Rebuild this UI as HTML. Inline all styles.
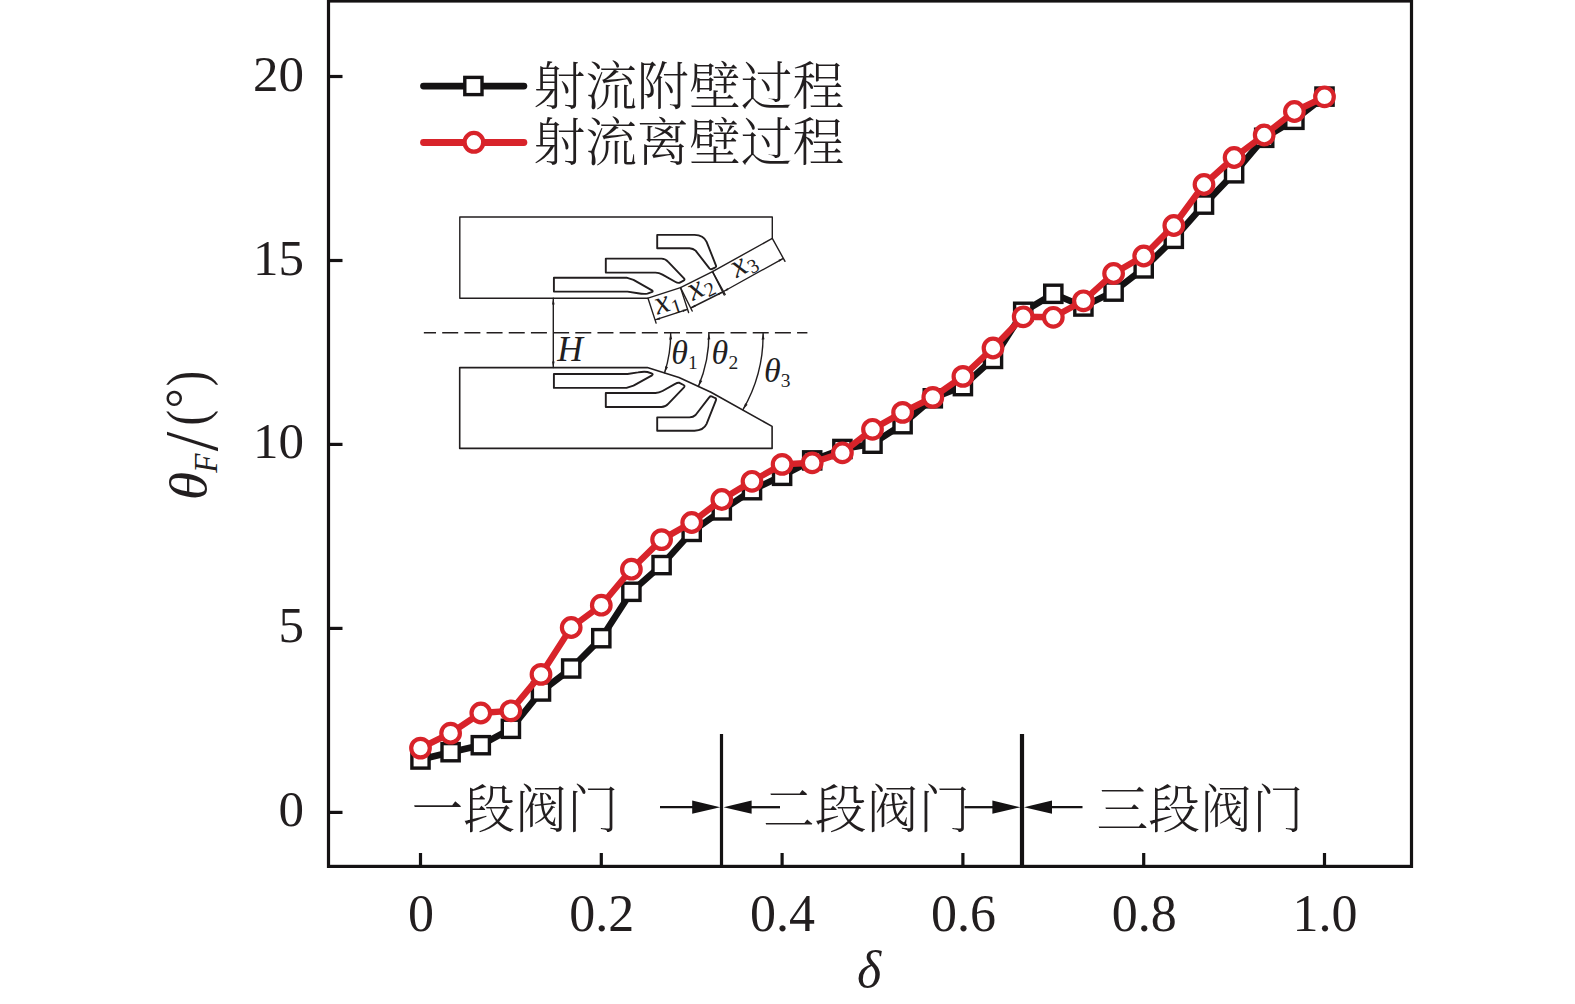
<!DOCTYPE html>
<html lang="zh-CN"><head><meta charset="utf-8"><title>射流附壁与离壁过程 θF–δ 曲线</title>
<style>
html,body{margin:0;padding:0;background:#fff;}
body{width:1575px;height:1004px;overflow:hidden;}
svg{display:block;}
text{fill:#221e1f;}
.num{font-family:"Liberation Serif",serif;font-size:52px;}
.it{font-family:"Liberation Serif",serif;font-style:italic;}
.cjk{font-family:"Liberation Serif","Noto Serif CJK SC",serif;font-size:51.8px;font-weight:300;}
.thin{fill:none;stroke:#221e1f;stroke-width:1.4;stroke-linejoin:round;stroke-linecap:round;}
.slot{fill:none;stroke:#221e1f;stroke-width:1.9;stroke-linejoin:round;}
</style></head><body>
<svg width="1575" height="1004" viewBox="0 0 1575 1004">
<rect x="0" y="0" width="1575" height="1004" fill="#fff"/>
<g id="frame" stroke="#141213" stroke-width="3.2" fill="none" stroke-linecap="butt">
<rect x="328.5" y="1" width="1083" height="865.4"/>
<line x1="329" y1="812.4" x2="342.5" y2="812.4"/>
<line x1="329" y1="628.4" x2="342.5" y2="628.4"/>
<line x1="329" y1="444.4" x2="342.5" y2="444.4"/>
<line x1="329" y1="260.5" x2="342.5" y2="260.5"/>
<line x1="329" y1="76.5" x2="342.5" y2="76.5"/>
<line x1="420.5" y1="866" x2="420.5" y2="853"/>
<line x1="601.3" y1="866" x2="601.3" y2="853"/>
<line x1="782.1" y1="866" x2="782.1" y2="853"/>
<line x1="962.9" y1="866" x2="962.9" y2="853"/>
<line x1="1143.7" y1="866" x2="1143.7" y2="853"/>
<line x1="1324.5" y1="866" x2="1324.5" y2="853"/>
</g>
<g id="yticks" class="num" text-anchor="end" style="font-size:51px">
<text x="304" y="826.4">0</text>
<text x="304" y="642.4">5</text>
<text x="304" y="458.4">10</text>
<text x="304" y="274.5">15</text>
<text x="304" y="90.5">20</text>
</g>
<g id="xticks" class="num" text-anchor="middle">
<text x="421" y="930.8">0</text>
<text x="601.8" y="930.8">0.2</text>
<text x="782.6" y="930.8">0.4</text>
<text x="963.4" y="930.8">0.6</text>
<text x="1144.2" y="930.8">0.8</text>
<text x="1325" y="930.8">1.0</text>
</g>
<text id="xlabel" class="it" x="869" y="987" font-size="52" text-anchor="middle">δ</text>
<g id="ylabel" transform="translate(205.5,500) rotate(-90)">
<text class="it" transform="translate(-0.3,0) scale(1.1,1)" font-size="52.5">θ</text>
<text class="it" transform="translate(27.3,11) scale(0.95,1)" font-size="33">F</text>
<text class="num" transform="translate(48.8,11) scale(0.92,1)" style="font-size:76.5px">/</text>
<text class="num" transform="translate(74.5,0.2) scale(0.8,1)" style="font-size:57.7px">(</text>
<text class="num" transform="translate(91.6,-5.4)" style="font-size:50.7px">°</text>
<text class="num" transform="translate(113.8,0.2) scale(0.8,1)" style="font-size:57.7px">)</text>
</g>
<g id="sections">
<line x1="721.5" y1="733.9" x2="721.5" y2="866" stroke="#141213" stroke-width="3.2"/>
<line x1="1022" y1="733.9" x2="1022" y2="866" stroke="#141213" stroke-width="4.2"/>
<line x1="660" y1="807.2" x2="694.2" y2="807.2" stroke="#141213" stroke-width="2.3"/>
<path d="M720.2 807.2 L692.2 800.6 L692.2 813.8 Z" fill="#141213"/>
<line x1="780" y1="807.2" x2="749.6" y2="807.2" stroke="#141213" stroke-width="2.3"/>
<path d="M723.6 807.2 L751.6 800.6 L751.6 813.8 Z" fill="#141213"/>
<line x1="964.5" y1="807.2" x2="994.4" y2="807.2" stroke="#141213" stroke-width="2.3"/>
<path d="M1020.4 807.2 L992.4 800.6 L992.4 813.8 Z" fill="#141213"/>
<line x1="1082.5" y1="807.2" x2="1050" y2="807.2" stroke="#141213" stroke-width="2.3"/>
<path d="M1024 807.2 L1052 800.6 L1052 813.8 Z" fill="#141213"/>
<text class="cjk" x="411.5" y="827.8">一段阀门</text>
<text class="cjk" x="763" y="827.8">二段阀门</text>
<text class="cjk" x="1096.5" y="827.8">三段阀门</text>
</g>
<g id="legend">
<line x1="423.5" y1="86.1" x2="523.9" y2="86.1" stroke="#141213" stroke-width="6.8" stroke-linecap="round"/>
<rect x="464.8" y="77.4" width="17.2" height="17.2" fill="#fff" stroke="#141213" stroke-width="3.4"/>
<line x1="423.5" y1="142.5" x2="523.9" y2="142.5" stroke="#d8232a" stroke-width="6.8" stroke-linecap="round"/>
<circle cx="473.9" cy="142.3" r="9.35" fill="#fff" stroke="#d8232a" stroke-width="4.3"/>
<text class="cjk" x="533.5" y="105">射流附壁过程</text>
<text class="cjk" x="533.5" y="160.5">射流离壁过程</text>
</g>
<g id="inset">
<path class="thin" d="M648 298.2 L459.8 298.2 L459.8 217 L772.3 217 L772.3 238.4 L712.5 271.6 L680.5 287.6 Z"/>
<path class="thin" style="stroke-width:1.6" d="M459.7 367.6 L647.3 367.6 L679 377.4 L711 392.3 L772.1 426.4 L772.1 448.4 L459.7 448.4 Z"/>
<line x1="423.85" y1="332.8" x2="807.4" y2="332.8" stroke="#221e1f" stroke-width="1.5" stroke-dasharray="16 6.18" stroke-dashoffset="3.83"/>
<line class="thin" x1="553.3" y1="298.2" x2="553.3" y2="367.6"/>
<path d="M553.3 298.4 l-1.3 6 l2.6 0 Z M553.3 367.6 l-1.3 -6 l2.6 0 Z" fill="#221e1f"/>
<path class="slot" d="M553.9 277.7 L626.5 277.7 L633.5 279.9 L652 290.3 Q653.6 291.4 651.6 292.2 L647.4 293.6 Q643.5 294.2 638 293.2 L627.5 291.6 L553.9 291.6 Z"/>
<path class="slot" d="M605.8 258.6 L661.5 258.6 Q665.5 258.8 668.2 261.8 L684 278.3 Q685.2 279.8 683.6 280.6 L679.4 282.8 Q677.6 283.2 675.6 282 L662.5 274.6 Q659 272.7 655.5 272.6 L605.8 272.6 Z"/>
<path class="slot" d="M657.2 234.9 L694.5 234.9 Q703.6 235.2 706.6 241.8 L715.9 265.3 Q716.6 267 715 267.6 L711.6 269.2 Q710.2 269.6 709.2 268.2 L695.6 250.6 Q693.2 248.4 689.5 248.2 L657.2 248.2 Z"/>
<path class="slot" d="M553.9 387.9 L626.5 387.9 L633.5 385.7 L652 375.3 Q653.6 374.2 651.6 373.4 L647.4 372 Q643.5 371.4 638 372.4 L627.5 374 L553.9 374 Z"/>
<path class="slot" d="M605.8 407 L661.5 407 Q665.5 406.8 668.2 403.8 L684 387.3 Q685.2 385.8 683.6 385 L679.4 382.8 Q677.6 382.4 675.6 383.6 L662.5 391 Q659 392.9 655.5 393 L605.8 393 Z"/>
<path class="slot" d="M657.2 430.7 L694.5 430.7 Q703.6 430.4 706.6 423.8 L715.9 400.3 Q716.6 398.6 715 398 L711.6 396.4 Q710.2 396 709.2 397.4 L695.6 415 Q693.2 417.2 689.5 417.4 L657.2 417.4 Z"/>
<path class="thin" d="M648 298.2 L656.1 323.1 M680.5 287.6 L688.6 312.5 M655.1 319.9 L687.6 309.3"/>
<path d="M655.1 319.9 L660.2 319.4 L659.5 317.3 Z" fill="#221e1f"/>
<path d="M687.6 309.3 L683.2 311.9 L682.5 309.8 Z" fill="#221e1f"/>
<g transform="translate(667.8,303.7) rotate(-18.1)">
<text class="it" x="-13" y="7.5" font-size="33">x</text><text class="num" x="2.4" y="11.5" style="font-size:20px">1</text>
</g>
<path class="thin" d="M680.5 287.6 L692.2 311 M712.5 271.6 L724.2 295 M690.7 308 L722.7 292"/>
<path d="M690.7 308 L695.7 306.7 L694.7 304.8 Z" fill="#221e1f"/>
<path d="M722.7 292 L718.7 295.2 L717.7 293.2 Z" fill="#221e1f"/>
<g transform="translate(701.3,288.4) rotate(-26.6)">
<text class="it" x="-13" y="7.5" font-size="33">x</text><text class="num" x="2.4" y="11.5" style="font-size:20px">2</text>
</g>
<path class="thin" d="M712.5 271.6 L725.2 294.5 M772.3 238.4 L785 261.3 M723.6 291.5 L783.4 258.3"/>
<path d="M723.6 291.5 L728.5 290.1 L727.4 288.1 Z" fill="#221e1f"/>
<path d="M783.4 258.3 L779.5 261.7 L778.5 259.8 Z" fill="#221e1f"/>
<g transform="translate(744.4,265.4) rotate(-29)">
<text class="it" x="-13" y="7.5" font-size="33">x</text><text class="num" x="2.4" y="11.5" style="font-size:20px">3</text>
</g>
<path class="thin" d="M670.7 332.8 A127.6 127.6 0 0 1 664.6 372.8"/>
<path d="M670.7 333.2 l-1.5 6.5 l2.9 -0.4 Z" fill="#221e1f"/>
<path d="M664.6 372.8 L668 367 L665.3 366.2 Z" fill="#221e1f"/>
<path class="thin" d="M708.9 332.8 A132.2 132.2 0 0 1 698.4 386.4"/>
<path d="M708.9 333.2 l-1.5 6.5 l2.9 -0.4 Z" fill="#221e1f"/>
<path d="M698.4 386.4 L702.3 381 L699.7 379.8 Z" fill="#221e1f"/>
<path class="thin" d="M763.1 332.8 A148.8 148.8 0 0 1 743 409.6"/>
<path d="M763.1 333.2 l-1.5 6.5 l2.9 -0.4 Z" fill="#221e1f"/>
<path d="M743 409.6 L747.6 404.7 L745.1 403.3 Z" fill="#221e1f"/>
<text class="it" x="557.2" y="360.9" font-size="35.5">H</text>
<text class="it" x="671.2" y="364.3" font-size="34">θ</text><text class="num" x="688" y="368.7" style="font-size:19.5px">1</text>
<text class="it" x="711.6" y="364.4" font-size="34">θ</text><text class="num" x="728.4" y="368.8" style="font-size:19.5px">2</text>
<text class="it" x="764" y="382.4" font-size="34">θ</text><text class="num" x="780.8" y="386.8" style="font-size:19.5px">3</text>
</g>
<g id="series-attach">
<polyline points="420.5,759.5 450.6,752.2 480.8,745.2 510.9,728.8 541,691.5 571.2,668.5 601.3,638.2 631.4,591.8 661.6,565.1 691.7,531.9 721.8,510.4 752,490.2 782.1,475.8 812.2,460.4 842.4,449 872.5,443.7 902.6,424.2 932.8,398.3 962.9,386.1 993,358.9 1023.2,311.8 1053.3,293.8 1083.4,306.5 1113.6,291.6 1143.7,268.4 1173.8,238.8 1204,204.6 1234.1,173.3 1264.2,137.8 1294.4,119.8 1324.5,96.6" fill="none" stroke="#141213" stroke-width="6.6" stroke-linejoin="round" stroke-linecap="round"/>
<g fill="#fff" stroke="#141213" stroke-width="3.4">
<rect x="411.9" y="750.9" width="17.2" height="17.2"/>
<rect x="442" y="743.6" width="17.2" height="17.2"/>
<rect x="472.2" y="736.6" width="17.2" height="17.2"/>
<rect x="502.3" y="720.2" width="17.2" height="17.2"/>
<rect x="532.4" y="682.9" width="17.2" height="17.2"/>
<rect x="562.6" y="659.9" width="17.2" height="17.2"/>
<rect x="592.7" y="629.6" width="17.2" height="17.2"/>
<rect x="622.8" y="583.2" width="17.2" height="17.2"/>
<rect x="653" y="556.5" width="17.2" height="17.2"/>
<rect x="683.1" y="523.3" width="17.2" height="17.2"/>
<rect x="713.2" y="501.8" width="17.2" height="17.2"/>
<rect x="743.4" y="481.6" width="17.2" height="17.2"/>
<rect x="773.5" y="467.2" width="17.2" height="17.2"/>
<rect x="803.6" y="451.8" width="17.2" height="17.2"/>
<rect x="833.8" y="440.4" width="17.2" height="17.2"/>
<rect x="863.9" y="435.1" width="17.2" height="17.2"/>
<rect x="894" y="415.6" width="17.2" height="17.2"/>
<rect x="924.2" y="389.7" width="17.2" height="17.2"/>
<rect x="954.3" y="377.5" width="17.2" height="17.2"/>
<rect x="984.4" y="350.3" width="17.2" height="17.2"/>
<rect x="1014.6" y="303.2" width="17.2" height="17.2"/>
<rect x="1044.7" y="285.2" width="17.2" height="17.2"/>
<rect x="1074.8" y="297.9" width="17.2" height="17.2"/>
<rect x="1105" y="283" width="17.2" height="17.2"/>
<rect x="1135.1" y="259.8" width="17.2" height="17.2"/>
<rect x="1165.2" y="230.2" width="17.2" height="17.2"/>
<rect x="1195.4" y="196" width="17.2" height="17.2"/>
<rect x="1225.5" y="164.7" width="17.2" height="17.2"/>
<rect x="1255.6" y="129.2" width="17.2" height="17.2"/>
<rect x="1285.8" y="111.2" width="17.2" height="17.2"/>
<rect x="1315.9" y="88" width="17.2" height="17.2"/>
</g></g>
<g id="series-detach">
<polyline points="420.5,748.1 450.6,733.2 480.8,713 510.9,710.8 541,674.4 571.2,627.5 601.3,605.2 631.4,569.2 661.6,539.6 691.7,522.5 721.8,499.5 752,481.3 782.1,464.4 812.2,462.8 842.4,452.8 872.5,429.3 902.6,412.4 932.8,397.4 962.9,376.4 993,348 1023.2,316.8 1053.3,317.3 1083.4,300.8 1113.6,273.5 1143.7,256 1173.8,225.5 1204,184.5 1234.1,157.5 1264.2,135 1294.4,111.5 1324.5,96.8" fill="none" stroke="#d8232a" stroke-width="6.4" stroke-linejoin="round" stroke-linecap="round"/>
<g fill="#fff" stroke="#d8232a" stroke-width="4.2">
<circle cx="420.5" cy="748.1" r="9.3"/>
<circle cx="450.6" cy="733.2" r="9.3"/>
<circle cx="480.8" cy="713" r="9.3"/>
<circle cx="510.9" cy="710.8" r="9.3"/>
<circle cx="541" cy="674.4" r="9.3"/>
<circle cx="571.2" cy="627.5" r="9.3"/>
<circle cx="601.3" cy="605.2" r="9.3"/>
<circle cx="631.4" cy="569.2" r="9.3"/>
<circle cx="661.6" cy="539.6" r="9.3"/>
<circle cx="691.7" cy="522.5" r="9.3"/>
<circle cx="721.8" cy="499.5" r="9.3"/>
<circle cx="752" cy="481.3" r="9.3"/>
<circle cx="782.1" cy="464.4" r="9.3"/>
<circle cx="812.2" cy="462.8" r="9.3"/>
<circle cx="842.4" cy="452.8" r="9.3"/>
<circle cx="872.5" cy="429.3" r="9.3"/>
<circle cx="902.6" cy="412.4" r="9.3"/>
<circle cx="932.8" cy="397.4" r="9.3"/>
<circle cx="962.9" cy="376.4" r="9.3"/>
<circle cx="993" cy="348" r="9.3"/>
<circle cx="1023.2" cy="316.8" r="9.3"/>
<circle cx="1053.3" cy="317.3" r="9.3"/>
<circle cx="1083.4" cy="300.8" r="9.3"/>
<circle cx="1113.6" cy="273.5" r="9.3"/>
<circle cx="1143.7" cy="256" r="9.3"/>
<circle cx="1173.8" cy="225.5" r="9.3"/>
<circle cx="1204" cy="184.5" r="9.3"/>
<circle cx="1234.1" cy="157.5" r="9.3"/>
<circle cx="1264.2" cy="135" r="9.3"/>
<circle cx="1294.4" cy="111.5" r="9.3"/>
<circle cx="1324.5" cy="96.8" r="9.3"/>
</g></g>
</svg>
</body></html>
